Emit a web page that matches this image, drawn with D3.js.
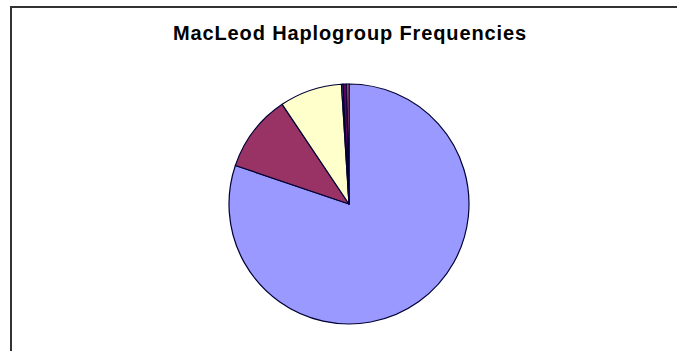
<!DOCTYPE html>
<html>
<head>
<meta charset="utf-8">
<script src="https://cdn.jsdelivr.net/npm/d3@7"></script>
<style>
  body { margin: 0; background: #fff; }
  svg { display: block; }
</style>
</head>
<body>
<div id="chart"></div>
<script>
// haplogroup shares (percent); Excel order, clockwise from 12 o'clock
const groups = ["R1b", "R1a", "I1", "I2", "N", "G"];
const shares = [80.2, 10.4, 8.4, 0.2, 0.5, 0.3];
const sliceColors = ["#9999FF", "#993366", "#FFFFCC", "#CCFFFF", "#660066", "#FF8080"];
const title = "MacLeod Haplogroup Frequencies";

const width = 677, height = 351;
const cx = 349, cy = 204, radius = 120;

const svg = d3.select("#chart").append("svg")
    .attr("width", width)
    .attr("height", height);

// chart frame (right and bottom edges are cropped off in the original)
svg.append("path")
    .attr("d", `M11,${height} V7 H${width}`)
    .attr("fill", "none")
    .attr("stroke", "#333")
    .attr("stroke-width", 2);

svg.append("text")
    .attr("x", 349.5)
    .attr("y", 40)
    .attr("text-anchor", "middle")
    .attr("font-family", "Liberation Sans, Arial, sans-serif")
    .attr("font-weight", "bold")
    .attr("font-size", 20)
    .attr("textLength", 353)
    .attr("lengthAdjust", "spacing")
    .attr("fill", "#000")
    .text(title);

const data = groups.map((g, i) => ({group: g, value: shares[i], color: sliceColors[i]}));

const pie = d3.pie()
    .value(d => d.value)
    .sort(null);

const arc = d3.arc()
    .innerRadius(0)
    .outerRadius(radius);

svg.append("g")
    .attr("transform", `translate(${cx},${cy})`)
    .selectAll("path")
    .data(pie(data))
    .enter()
    .append("path")
    .attr("d", arc)
    .attr("fill", d => d.data.color)
    .attr("stroke", "#000033")
    .attr("stroke-width", 1.2)
    .attr("stroke-linejoin", "round");
</script>
</body>
</html>
